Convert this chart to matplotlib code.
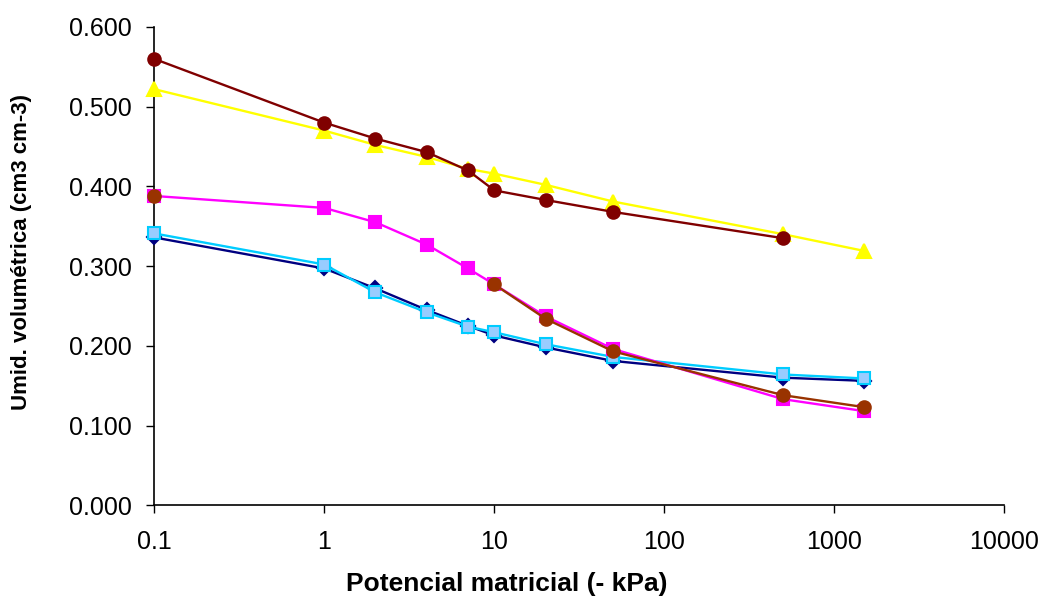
import numpy as np
import matplotlib.pyplot as plt
from matplotlib.ticker import FixedLocator, FixedFormatter, NullLocator

plt.rcParams['font.family'] = ['Liberation Sans', 'DejaVu Sans']

# Matric potential (- kPa)
pot = [0.1, 1, 2, 4, 7, 10, 20, 50, 500, 1500]

# Volumetric water content (cm3 cm-3) per curve
dark_red = [0.560, 0.480, 0.460, 0.443, 0.420, 0.395, 0.383, 0.368, 0.335, np.nan]
yellow = [0.522, 0.470, 0.452, 0.437, 0.422, 0.416, 0.402, 0.381, 0.340, 0.319]
magenta = [0.388, 0.373, 0.355, 0.327, 0.297, 0.277, 0.237, 0.196, 0.133, 0.118]
brown = [0.388, np.nan, np.nan, np.nan, np.nan, 0.277, 0.234, 0.193, 0.138, 0.123]
navy = [0.336, 0.297, 0.272, 0.245, 0.225, 0.213, 0.198, 0.181, 0.160, 0.156]
light_blue = [0.341, 0.302, 0.267, 0.242, 0.224, 0.217, 0.202, 0.186, 0.164, 0.159]

x_ticks = [0.1, 1, 10, 100, 1000, 10000]
x_labels = ['0.1', '1', '10', '100', '1000', '10000']
y_ticks = [0.0, 0.1, 0.2, 0.3, 0.4, 0.5, 0.6]

fig = plt.figure(figsize=(10.42, 6), dpi=100)
ax = fig.add_axes([0.148, 0.158, 0.816, 0.797])

# series: (values, line colour, marker, size, face, edge)
series = [
    (navy, '#000080', 'D', 7, '#000080', '#000080'),
    (light_blue, '#00CCFF', 's', 8, '#99CCFF', '#00CCFF'),
    (magenta, '#FF00FF', 's', 8.5, '#FF00FF', '#FF00FF'),
    (brown, '#993300', 'o', 9, '#993300', '#993300'),
    (yellow, '#FFFF00', '^', 10, '#FFFF00', '#FFFF00'),
    (dark_red, '#800000', 'o', 9, '#800000', '#800000'),
]
for vals, col, mk, size, face, edge in series:
    ax.plot(pot, vals, color=col, lw=1.7, marker=mk, ms=size,
            mfc=face, mec=edge, mew=1.5, clip_on=False, zorder=3)

ax.set_xscale('log')
ax.set_xlim(0.1, 10000)
ax.set_ylim(0, 0.6)
ax.xaxis.set_major_locator(FixedLocator(x_ticks))
ax.xaxis.set_major_formatter(FixedFormatter(x_labels))
ax.xaxis.set_minor_locator(NullLocator())
ax.set_yticks(y_ticks)
ax.set_yticklabels([f'{v:.3f}' for v in y_ticks])

for side in ['top', 'right']:
    ax.spines[side].set_visible(False)
ax.spines['left'].set_linewidth(1.2)
ax.spines['bottom'].set_linewidth(1.2)
ax.tick_params(axis='both', direction='out', length=6, width=1,
               labelsize=18, colors='black')
ax.tick_params(axis='y', pad=10)
ax.tick_params(axis='x', pad=12)

ax.set_xlabel('Potencial matricial (- kPa)', fontsize=19, fontweight='bold')
ax.set_ylabel('Umid. volumétrica (cm3 cm-3)', fontsize=16, fontweight='bold')
ax.xaxis.set_label_coords(0.415, -0.14)
ax.yaxis.set_label_coords(-0.1435, 0.53)

fig.savefig('out.png', dpi=100)
